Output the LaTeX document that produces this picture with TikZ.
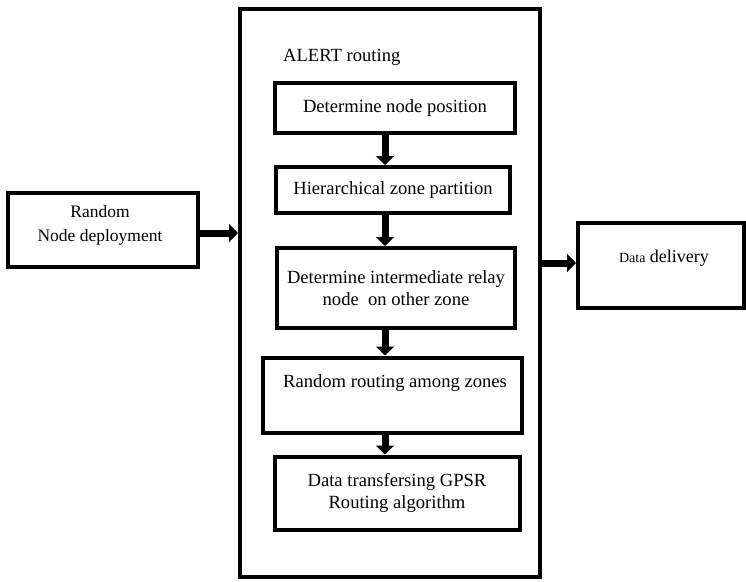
\documentclass[tikz,border=0pt]{standalone}
\usepackage{fontspec}
\setmainfont{Liberation Serif}
\usetikzlibrary{arrows.meta}
\begin{document}
\begin{tikzpicture}[x=1pt,y=-1pt,
  box/.style={draw,line width=4pt,rectangle,inner sep=0pt,align=center,font=\fontsize{18.6}{22}\selectfont},
  txt/.style={inner sep=0pt,align=center,font=\fontsize{18.6}{22}\selectfont},
  arr/.style={line width=7pt,-{Triangle[length=9pt,width=18pt]}}]
\useasboundingbox (0,0) rectangle (746,581);
% outer ALERT box
\node[box,minimum width=300pt,minimum height=568pt] (big) at (390,293) {};
\node[txt,anchor=west] (alert) at (283,57) {ALERT routing};
% left and right boxes
\node[box,minimum width=190pt,minimum height=74pt] (rnd) at (103,230) {};
\node[txt,font=\fontsize{17.5}{24}\selectfont] (rndt) at (100,225) {Random\\Node deployment};
\node[box,minimum width=166pt,minimum height=85pt] (dd) at (661,265) {};
\node[txt,font=\fontsize{18}{22}\selectfont] (ddt) at (664,258) {{\fontsize{14}{16}\selectfont Data} delivery};
% inner steps
\node[box,minimum width=240pt,minimum height=50pt] (b1) at (395,108) {Determine node position};
\node[box,minimum width=234pt,minimum height=46pt] (b2) at (393,190) {Hierarchical zone partition};
\node[box,minimum width=238pt,minimum height=80pt] (b3) at (396,288) {Determine intermediate relay\\node\ \ on other zone};
\node[box,minimum width=259pt,minimum height=75pt] (b4) at (392,395) {};
\node[txt] (b4t) at (395,383) {Random routing among zones};
\node[box,minimum width=245pt,minimum height=73pt] (b5) at (397,493) {Data transfersing GPSR\\Routing algorithm};
\coordinate (ax) at (385,0);
% connectors
\draw[arr] (b1.south -| ax) -- (b2.north -| ax);
\draw[arr] (b2.south -| ax) -- (b3.north -| ax);
\draw[arr] (b3.south -| ax) -- (b4.north -| ax);
\draw[arr] (b4.south -| ax) -- (b5.north -| ax);
\coordinate (ly) at (0,233);
\coordinate (ry) at (0,263);
\draw[arr] (rnd.east |- ly) -- (big.west |- ly);
\draw[arr] (big.east |- ry) -- (dd.west |- ry);
\end{tikzpicture}
\end{document}
